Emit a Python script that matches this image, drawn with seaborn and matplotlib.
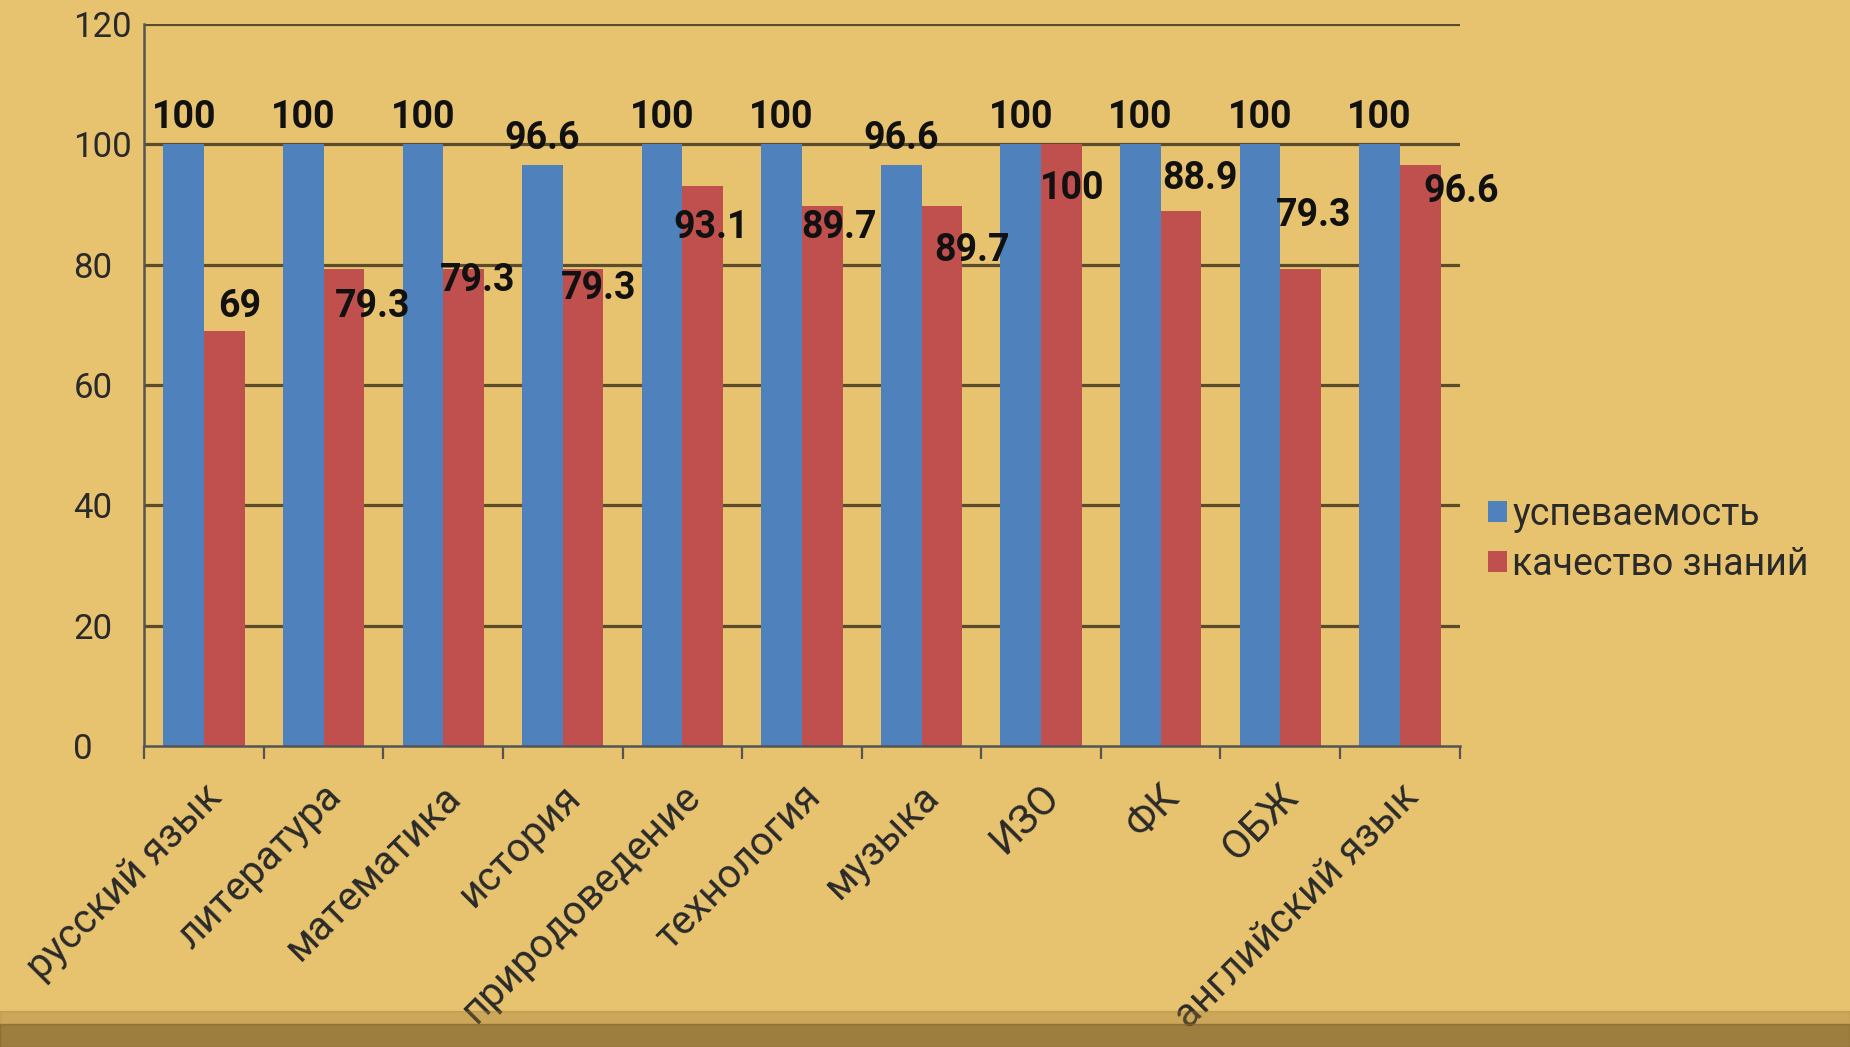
import matplotlib
matplotlib.use('Agg')
import matplotlib.pyplot as plt
import matplotlib.transforms as mtransforms
from matplotlib.patches import Rectangle
import seaborn as sns
import numpy as np
import pandas as pd

# данные диаграммы
predmety = ['русский язык', 'литература', 'математика', 'история', 'природоведение',
            'технология', 'музыка', 'ИЗО', 'ФК', 'ОБЖ', 'английский язык']
uspevaemost = [100, 100, 100, 96.6, 100, 100, 96.6, 100, 100, 100, 100]
kachestvo = [69, 79.3, 79.3, 79.3, 93.1, 89.7, 89.7, 100, 88.9, 79.3, 96.6]
serii = ['успеваемость', 'качество знаний']
y_ticks = [0, 20, 40, 60, 80, 100, 120]

# сдвиги подписей красных столбцов (как перетащены в Excel): (по x в категориях, по y в единицах)
sdvig_x = [0.13, 0.24, 0.12, 0.13, 0.07, 0.14, 0.25, 0.09, 0.16, 0.11, 0.34]
sdvig_y = [4.1, -6.2, -1.9, -3.3, -6.9, -3.5, -7.4, -7.3, 5.4, 8.9, -4.5]

fon = '#E8C36F'
sns.set_style('white')
plt.rcParams['font.family'] = ['Roboto', 'DejaVu Sans']

df = pd.DataFrame({
    'предмет': predmety * 2,
    'серия': [serii[0]] * len(predmety) + [serii[1]] * len(predmety),
    'значение': uspevaemost + kachestvo,
})

fig = plt.figure(figsize=(18.5, 10.47), dpi=100)
fig.patch.set_facecolor(fon)
# тёмная полоса внизу слайда
fig.patches.append(Rectangle((0, 0), 1, 0.022, transform=fig.transFigure,
                             color='#6e5020', alpha=0.6, zorder=0))
fig.patches.append(Rectangle((0, 0.022), 1, 0.012, transform=fig.transFigure,
                             color='#9a7535', alpha=0.35, zorder=0))

ax = fig.add_axes([0.078, 0.2875, 0.711, 0.6895])
ax.set_facecolor('none')

sns.barplot(data=df, x='предмет', y='значение', hue='серия',
            palette=['#4F81BD', '#C0504D'], width=0.68, saturation=1,
            edgecolor='none', linewidth=0, ax=ax, zorder=3)

ax.set_xlim(-0.5, len(predmety) - 0.5)
ax.set_ylim(0, 120)
ax.set_yticks(y_ticks)
ax.set_xlabel('')
ax.set_ylabel('')

# сетка
for v in y_ticks[1:]:
    ax.axhline(v, color='#5b4d2c', lw=2.3, zorder=1)

for s in ['top', 'right']:
    ax.spines[s].set_visible(False)
for s in ['left', 'bottom']:
    ax.spines[s].set_color('#555555')
    ax.spines[s].set_linewidth(1.8)
    ax.spines[s].set_zorder(4)

# подписи значений
for bar, v in zip(ax.containers[0], uspevaemost):
    ax.annotate(f'{v:g}', xy=(bar.get_x() + bar.get_width() / 2, v),
                xytext=(0, 6), textcoords='offset points',
                ha='center', va='bottom', fontsize=27, fontweight='bold', color='#111111')

for i, (bar, v) in enumerate(zip(ax.containers[1], kachestvo)):
    ax.text(bar.get_x() + bar.get_width() / 2 + sdvig_x[i], v + sdvig_y[i], f'{v:g}',
            ha='center', va='center', fontsize=27, fontweight='bold', color='#111111', zorder=5)

# оси и подписи делений
ax.tick_params(axis='y', length=7, width=1.6, color='#555555', pad=44,
               labelsize=25, labelcolor='#2a2a2a')
for lbl in ax.get_yticklabels():
    lbl.set_horizontalalignment('left')

ax.set_xticks(list(np.arange(-0.5, len(predmety), 1.0)), minor=True)
ax.tick_params(axis='x', which='minor', length=9, width=1.6, color='#555555', bottom=True)
ax.tick_params(axis='x', which='major', length=0, pad=32, labelsize=29, labelcolor='#2a2a2a')
sdvig = mtransforms.ScaledTranslation(0.12, 0, fig.dpi_scale_trans)
for lbl in ax.get_xticklabels():
    lbl.set_rotation(45)
    lbl.set_rotation_mode('anchor')
    lbl.set_horizontalalignment('right')
    lbl.set_verticalalignment('center')
    lbl.set_transform(lbl.get_transform() + sdvig)

sns.move_legend(ax, 'center left', bbox_to_anchor=(1.01, 0.286), frameon=False, title=None,
                fontsize=27, handlelength=0.5, handleheight=0.5, handletextpad=0.15,
                labelspacing=0.35, borderaxespad=0)
for t in ax.get_legend().get_texts():
    t.set_color('#2a2a2a')

fig.savefig('out.png', dpi=100, facecolor=fig.get_facecolor())
